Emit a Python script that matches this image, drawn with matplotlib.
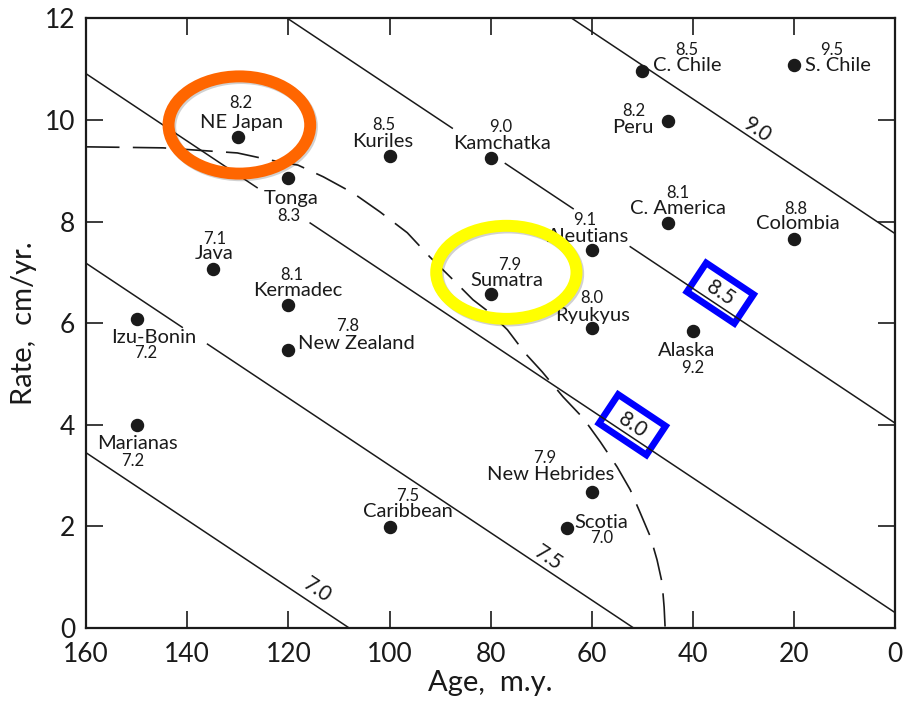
import numpy as np
import matplotlib
matplotlib.use("Agg")
import matplotlib.pyplot as plt
import matplotlib.patheffects as pe
from matplotlib.patches import Ellipse, Rectangle
from matplotlib.transforms import Affine2D, ScaledTranslation

plt.rcParams['font.family'] = ['Lato', 'DejaVu Sans']

# subduction zones: age of plate (m.y.), convergence rate (cm/yr), max magnitude
zones = ["NE Japan", "Tonga", "Kuriles", "Kamchatka", "C. Chile", "S. Chile",
         "Peru", "C. America", "Colombia", "Aleutians", "Sumatra", "Ryukyus",
         "Alaska", "Java", "Kermadec", "New Zealand", "Izu-Bonin", "Marianas",
         "Caribbean", "New Hebrides", "Scotia"]
ages = [130, 120, 100, 80, 50, 20, 45, 45, 20, 60, 80, 60,
        40, 135, 120, 120, 150, 150, 100, 60, 65]
rates = [9.67, 8.86, 9.29, 9.25, 10.96, 11.08, 9.98, 7.97, 7.66, 7.44, 6.57, 5.90,
         5.85, 7.07, 6.36, 5.47, 6.08, 4.00, 1.99, 2.68, 1.97]
mags = ["8.2", "8.3", "8.5", "9.0", "8.5", "9.5", "8.2", "8.1", "8.8", "9.1", "7.9", "8.0",
        "9.2", "7.1", "8.1", "7.8", "7.2", "7.2", "7.5", "7.9", "7.0"]

# iso-magnitude lines: rate = rate_at_0 + slope * age
iso_mags = ["7.0", "7.5", "8.0", "8.5", "9.0"]
iso_rate_at_0 = [-7.16, -3.43, 0.30, 4.03, 7.76]
iso_slope = 0.0663

# dashed boundary
dash_age = [160, 144.8, 130.1, 123.6, 118.1, 113.1, 107.2, 101.9, 96.5, 92.0, 87.4,
            83.5, 80.1, 76.7, 73.2, 69.8, 65.7, 61.7, 58.3, 55.0, 52.4, 50.4, 48.4,
            47.1, 46.1, 45.7, 45.5]
dash_rate = [9.47, 9.45, 9.35, 9.21, 9.11, 8.88, 8.56, 8.19, 7.78, 7.30, 6.85,
             6.46, 6.20, 5.87, 5.41, 5.04, 4.55, 4.13, 3.66, 3.17, 2.72, 2.26, 1.79,
             1.34, 0.89, 0.41, 0.0]

# label offsets in pixels (name, magnitude) relative to each dot
name_off = [(4, 14), (3, -21), (-7, 14), (11, 15), (45, 6), (44, 0), (-35, -7),
            (10, 15), (4, 15), (-4, 13), (16, 14), (1, 13), (-6, -20), (2, 15),
            (9, 14), (68, 7), (17, -18), (1, -19), (18, 15), (-41, 17), (35, 5)]
mag_off = [(3, 34), (0, -38), (-6, 31), (10, 31), (44, 21), (38, 15), (-34, 10),
           (10, 30), (2, 30), (-7, 30), (19, 29), (0, 30), (0, -37), (2, 30),
           (3, 30), (59, 24), (9, -34), (-4, -36), (18, 31), (-47, 34), (35, -10)]

# gaps in the iso lines where labels sit (age ranges)
line_gaps = {"8.0": [(115.7, 126.2)], "8.5": [(77.1, 87.6), (52.4, 63.7)],
             "7.5": [(136, 141)]}
# where the line labels sit (age, rate)
iso_label_pos = {"7.0": (114.3, 0.75), "7.5": (68.6, 1.38), "8.0": (52.0, 4.0),
                 "8.5": (34.6, 6.59), "9.0": (27.3, 9.80)}
boxed = ["8.0", "8.5"]

fig = plt.figure(figsize=(9.07, 7.04), dpi=100)
ax = fig.add_axes([0.095, 0.108, 0.892, 0.866])
ax.set_xlim(160, 0)
ax.set_ylim(0, 12)

ink = '#1a1a1a'
for m, c in zip(iso_mags, iso_rate_at_0):
    cuts = [160]
    for a, b in sorted(line_gaps.get(m, []), reverse=True):
        cuts += [b, a]
    cuts.append(0)
    for i in range(0, len(cuts), 2):
        seg = np.array([cuts[i], cuts[i + 1]])
        ax.plot(seg, c + iso_slope * seg, color=ink, lw=1.1)

ax.plot(dash_age, dash_rate, color=ink, lw=1.2, dashes=(20, 8))

ax.scatter(ages, rates, s=75, color=ink, zorder=3)

px = 0.72
for i, z in enumerate(zones):
    ax.annotate(z, (ages[i], rates[i]), xytext=(name_off[i][0] * px, name_off[i][1] * px),
                textcoords='offset points', ha='center', va='center', fontsize=14.5, color=ink)
    ax.annotate(mags[i], (ages[i], rates[i]), xytext=(mag_off[i][0] * px, mag_off[i][1] * px),
                textcoords='offset points', ha='center', va='center', fontsize=12, color=ink)

# screen angle of the iso lines
p1 = ax.transData.transform((100, iso_slope * 100))
p2 = ax.transData.transform((50, iso_slope * 50))
angle = np.degrees(np.arctan2(p2[1] - p1[1], p2[0] - p1[0]))


def pt_trans(x, y):
    return Affine2D().scale(fig.dpi / 72) + ScaledTranslation(x, y, ax.transData)


for m in iso_mags:
    x, y = iso_label_pos[m]
    ax.text(x, y, m, rotation=angle, rotation_mode='anchor', ha='center', va='center',
            fontsize=15, color=ink)
    if m in boxed:
        r = Rectangle((-20.5, -12.5), 41, 25, angle=angle, rotation_point=(0, 0),
                      fill=False, ec='#0000ff', lw=4.8, transform=pt_trans(x, y), clip_on=False)
        ax.add_patch(r)

shadow = [pe.SimpleLineShadow(offset=(1.2, -1.2), shadow_color='k', alpha=0.18), pe.Normal()]
e1 = Ellipse((0, 0), 102, 70, fill=False, ec='#ff6600', lw=8.6,
             transform=pt_trans(129.7, 9.90), clip_on=False, path_effects=shadow, zorder=4)
e2 = Ellipse((0, 0), 101, 67, fill=False, ec='#ffff00', lw=8.6,
             transform=pt_trans(76.9, 7.0), clip_on=False, path_effects=shadow, zorder=4)
ax.add_patch(e1)
ax.add_patch(e2)

ax.set_xlim(160, 0)
ax.set_ylim(0, 12)
ax.set_xticks(np.arange(160, -1, -20))
ax.set_yticks(np.arange(0, 13, 2))
ax.tick_params(direction='in', length=12, width=1.2, top=True, right=True,
               labelsize=19, pad=8, colors=ink)
ax.tick_params(axis='x', pad=10)
for s in ax.spines.values():
    s.set_linewidth(1.6)
    s.set_color(ink)
ax.set_xlabel("Age,  m.y.", fontsize=21, color=ink, labelpad=2)
ax.set_ylabel("Rate,  cm/yr.", fontsize=21, color=ink, labelpad=5)

fig.savefig("out.png", dpi=100)
